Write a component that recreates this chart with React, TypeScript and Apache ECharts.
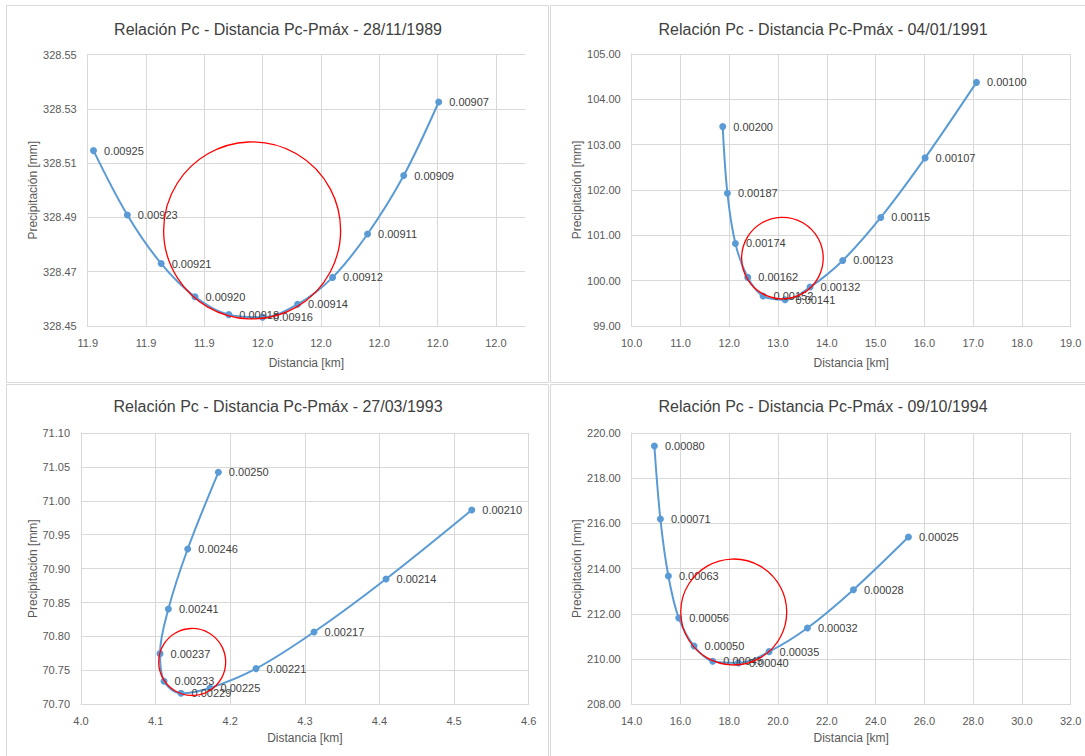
import React, { useEffect, useRef } from 'react';
import * as echarts from 'echarts';

const FONT = 'Liberation Sans';
const BLUE = '#5B9BD5';
const GRID = '#D9D9D9';
const TXT = '#595959';

// ---------- Panel 1: 28/11/1989 ----------
const p1Title = 'Relación Pc - Distancia Pc-Pmáx - 28/11/1989';
const p1Pc = ['0.00925', '0.00923', '0.00921', '0.00920', '0.00918', '0.00916', '0.00914', '0.00912', '0.00911', '0.00909', '0.00907'];
const p1Dist = [11.9355, 11.9384, 11.9413, 11.9442, 11.9471, 11.95, 11.953, 11.956, 11.959, 11.9621, 11.9651];
const p1Prec = [328.5146, 328.4909, 328.473, 328.4608, 328.4542, 328.4532, 328.458, 328.4679, 328.4839, 328.5054, 328.5325];
const p1XTicks = ['11.9', '11.9', '11.9', '12.0', '12.0', '12.0', '12.0', '12.0'];
const p1YTicks = ['328.45', '328.47', '328.49', '328.51', '328.53', '328.55'];
const p1Circle = [11.9491, 328.4852];

// ---------- Panel 2: 04/01/1991 ----------
const p2Title = 'Relación Pc - Distancia Pc-Pmáx - 04/01/1991';
const p2Pc = ['0.00200', '0.00187', '0.00174', '0.00162', '0.00152', '0.00141', '0.00132', '0.00123', '0.00115', '0.00107', '0.00100'];
const p2Dist = [11.866, 11.962, 12.126, 12.379, 12.693, 13.144, 13.657, 14.327, 15.106, 16.015, 17.068];
const p2Prec = [103.398, 101.93, 100.821, 100.072, 99.661, 99.58, 99.859, 100.446, 101.394, 102.708, 104.374];
const p2XTicks = ['10.0', '11.0', '12.0', '13.0', '14.0', '15.0', '16.0', '17.0', '18.0', '19.0'];
const p2YTicks = ['99.00', '100.00', '101.00', '102.00', '103.00', '104.00', '105.00'];
const p2Circle = [13.09, 100.498];

// ---------- Panel 3: 27/03/1993 ----------
const p3Title = 'Relación Pc - Distancia Pc-Pmáx - 27/03/1993';
const p3Pc = ['0.00250', '0.00246', '0.00241', '0.00237', '0.00233', '0.00229', '0.00225', '0.00221', '0.00217', '0.00214', '0.00210'];
const p3Dist = [4.1841, 4.143, 4.1171, 4.1059, 4.1113, 4.134, 4.1729, 4.2346, 4.3123, 4.4088, 4.5237];
const p3Prec = [71.042, 70.929, 70.8405, 70.7747, 70.7339, 70.7162, 70.7241, 70.7526, 70.8066, 70.8848, 70.9865];
const p3XTicks = ['4.0', '4.1', '4.2', '4.3', '4.4', '4.5', '4.6'];
const p3YTicks = ['70.70', '70.75', '70.80', '70.85', '70.90', '70.95', '71.00', '71.05', '71.10'];
const p3Circle = [4.149, 70.7624];

// ---------- Panel 4: 09/10/1994 ----------
const p4Title = 'Relación Pc - Distancia Pc-Pmáx - 09/10/1994';
const p4Pc = ['0.00080', '0.00071', '0.00063', '0.00056', '0.00050', '0.00045', '0.00040', '0.00035', '0.00032', '0.00028', '0.00025'];
const p4Dist = [14.93, 15.176, 15.504, 15.928, 16.556, 17.322, 18.375, 19.632, 21.204, 23.091, 25.347];
const p4Prec = [219.423, 216.195, 213.674, 211.817, 210.579, 209.901, 209.828, 210.329, 211.375, 213.07, 215.399];
const p4XTicks = ['14.0', '16.0', '18.0', '20.0', '22.0', '24.0', '26.0', '28.0', '30.0', '32.0'];
const p4YTicks = ['208.00', '210.00', '212.00', '214.00', '216.00', '218.00', '220.00'];
const p4Circle = [18.183, 212.083];

type Panel = {
  title: string; pc: string[]; dist: number[]; prec: number[];
  xTicks: string[]; yTicks: string[]; circle: number[];
  xMin: number; xMax: number; xInt: number;
  yMin: number; yMax: number; yInt: number;
  grid: { left: number; top: number; width: number; height: number };
  titlePos: [number, number]; r: number; yNameGap: number; xNameGap: number;
};

const panels: Panel[] = [
  {
    title: p1Title, pc: p1Pc, dist: p1Dist, prec: p1Prec, xTicks: p1XTicks, yTicks: p1YTicks, circle: p1Circle,
    xMin: 11.935, xMax: 11.9725, xInt: 0.005, yMin: 328.45, yMax: 328.55, yInt: 0.02,
    grid: { left: 87.7, top: 54.5, width: 437.3, height: 271.5 }, titlePos: [278, 29.7], r: 88.5, yNameGap: 49, xNameGap: 31,
  },
  {
    title: p2Title, pc: p2Pc, dist: p2Dist, prec: p2Prec, xTicks: p2XTicks, yTicks: p2YTicks, circle: p2Circle,
    xMin: 10, xMax: 19, xInt: 1, yMin: 99, yMax: 105, yInt: 1,
    grid: { left: 631.7, top: 54, width: 439, height: 272 }, titlePos: [823, 29.7], r: 40.8, yNameGap: 48, xNameGap: 31,
  },
  {
    title: p3Title, pc: p3Pc, dist: p3Dist, prec: p3Prec, xTicks: p3XTicks, yTicks: p3YTicks, circle: p3Circle,
    xMin: 4.0, xMax: 4.6, xInt: 0.1, yMin: 70.7, yMax: 71.1, yInt: 0.05,
    grid: { left: 81, top: 433, width: 447.7, height: 271.3 }, titlePos: [278, 406.7], r: 33.5, yNameGap: 42, xNameGap: 28,
  },
  {
    title: p4Title, pc: p4Pc, dist: p4Dist, prec: p4Prec, xTicks: p4XTicks, yTicks: p4YTicks, circle: p4Circle,
    xMin: 14, xMax: 32, xInt: 2, yMin: 208, yMax: 220, yInt: 2,
    grid: { left: 631.7, top: 433, width: 439, height: 271.3 }, titlePos: [823, 406.7], r: 53, yNameGap: 48, xNameGap: 28,
  },
];

function tickLabel(labels: string[], min: number, int: number) {
  return (v: number) => {
    const idx = Math.round((v - min) / int);
    if (Math.abs(min + idx * int - v) > int * 0.01) return '';
    return labels[idx] ?? '';
  };
}

export default function App() {
  const ref = useRef<HTMLDivElement>(null);
  useEffect(() => {
    if (!ref.current) return;
    const chart = echarts.init(ref.current, undefined, { renderer: 'svg' });
    const grids: any[] = [];
    const xAxes: any[] = [];
    const yAxes: any[] = [];
    const series: any[] = [];
    const graphics: any[] = [];

    // panel borders
    const borders = [
      { x: 6.5, y: 5.5, width: 542, height: 377 },
      { x: 550.5, y: 5.5, width: 545, height: 377 },
      { x: 6.5, y: 384.5, width: 542, height: 380 },
      { x: 550.5, y: 384.5, width: 545, height: 380 },
    ];
    borders.forEach((b) =>
      graphics.push({ type: 'rect', shape: b, style: { fill: 'none', stroke: GRID, lineWidth: 1 }, silent: true, z: -1 })
    );

    panels.forEach((p, i) => {
      grids.push({ ...p.grid, containLabel: false });
      graphics.push({
        type: 'text', x: p.titlePos[0], y: p.titlePos[1], silent: true,
        style: { text: p.title, align: 'center', verticalAlign: 'middle', fontFamily: FONT, fontSize: 16, fill: '#404040' },
      });
      xAxes.push({
        type: 'value', gridIndex: i, min: p.xMin, max: p.xMax, interval: p.xInt,
        name: 'Distancia [km]', nameLocation: 'middle', nameGap: p.xNameGap,
        nameTextStyle: { fontFamily: FONT, fontSize: 12, color: TXT },
        axisLine: { show: true, lineStyle: { color: GRID, width: 1 } },
        axisTick: { show: false },
        axisLabel: { formatter: tickLabel(p.xTicks, p.xMin, p.xInt), fontFamily: FONT, fontSize: 11, color: TXT, margin: 11, showMaxLabel: true },
        splitLine: { show: true, lineStyle: { color: GRID, width: 1 }, showMaxLine: i !== 0 },
      });
      yAxes.push({
        type: 'value', gridIndex: i, min: p.yMin, max: p.yMax, interval: p.yInt,
        name: 'Precipitación [mm]', nameLocation: 'middle', nameGap: p.yNameGap,
        nameTextStyle: { fontFamily: FONT, fontSize: 12, color: TXT },
        axisLine: { show: true, lineStyle: { color: GRID, width: 1 } },
        axisTick: { show: false },
        axisLabel: { formatter: tickLabel(p.yTicks, p.yMin, p.yInt), fontFamily: FONT, fontSize: 11, color: TXT, margin: 11 },
        splitLine: { show: true, lineStyle: { color: GRID, width: 1 } },
      });
      series.push({
        type: 'line', xAxisIndex: i, yAxisIndex: i,
        data: p.dist.map((d, k) => [d, p.prec[k], p.pc[k]]),
        smooth: 0.35,
        symbol: 'circle', symbolSize: 7,
        itemStyle: { color: BLUE },
        lineStyle: { color: BLUE, width: 2 },
        label: {
          show: true, position: 'right', distance: 7,
          formatter: (params: any) => params.value[2],
          fontFamily: FONT, fontSize: 11, color: '#404040',
        },
        z: 2,
      });
      series.push({
        type: 'custom', xAxisIndex: i, yAxisIndex: i, silent: true, clip: false, z: 5,
        data: [p.circle],
        renderItem: (_params: any, api: any) => {
          const c = api.coord([api.value(0), api.value(1)]);
          return {
            type: 'circle',
            shape: { cx: c[0], cy: c[1], r: p.r },
            style: { fill: 'none', stroke: '#FF0000', lineWidth: 1.3 },
          };
        },
      });
    });

    chart.setOption({
      animation: false,
      backgroundColor: '#FFFFFF',
      grid: grids,
      xAxis: xAxes,
      yAxis: yAxes,
      series,
      graphic: graphics,
    });
    return () => chart.dispose();
  }, []);
  return <div ref={ref} style={{ position: 'absolute', left: 0, top: 0, width: 1085, height: 756 }} />;
}
